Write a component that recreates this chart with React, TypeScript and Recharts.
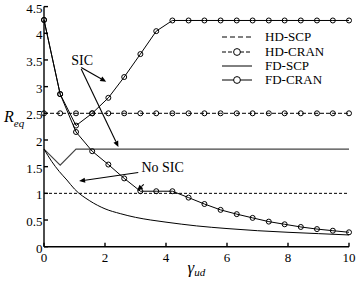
import React from 'react';
import {
  LineChart,
  Line,
  XAxis,
  YAxis,
  Legend,
  ReferenceLine,
  ReferenceDot,
} from 'recharts';

const FONT = '"Liberation Serif", "Times New Roman", serif';

// gamma_ud sample points used by the CRAN curves
const gammaSteps = [0, 0.53, 1.05, 1.58, 2.11, 2.63, 3.16, 3.68, 4.21, 4.74, 5.26, 5.79, 6.32, 6.84, 7.37, 7.89, 8.42, 8.95, 9.47, 10];
const hdCran = [2.5, 2.5, 2.5, 2.5, 2.5, 2.5, 2.5, 2.5, 2.5, 2.5, 2.5, 2.5, 2.5, 2.5, 2.5, 2.5, 2.5, 2.5, 2.5, 2.5];
const fdCranSic = [4.25, 2.86, 2.27, 2.5, 2.79, 3.18, 3.61, 4.04, 4.24, 4.24, 4.24, 4.24, 4.24, 4.24, 4.24, 4.24, 4.24, 4.24, 4.24, 4.24];
const fdCranNoSic = [4.25, 2.86, 2.15, 1.79, 1.54, 1.28, 1.04, 1.04, 1.04, 0.92, 0.8, 0.69, 0.61, 0.54, 0.47, 0.42, 0.37, 0.33, 0.3, 0.27];

const hdScpX = [0, 10];
const hdScp = [1, 1];

const fdScpSicX = [0, 0.53, 1.05, 10];
const fdScpSic = [1.83, 1.53, 1.83, 1.83];

const fdScpNoSicX = [0, 0.25, 0.5, 0.75, 1, 1.5, 2, 2.5, 3, 3.5, 4, 5, 6, 7, 8, 9, 10];
const fdScpNoSic = [1.83, 1.6, 1.41, 1.25, 1.08, 0.86, 0.71, 0.62, 0.55, 0.5, 0.46, 0.39, 0.34, 0.3, 0.27, 0.245, 0.22];

const xTicks = [0, 2, 4, 6, 8, 10];
const yTicks = [0, 0.5, 1, 1.5, 2, 2.5, 3, 3.5, 4, 4.5];

const legendItems = [
  { name: 'HD-SCP', dash: '5 3', marker: false },
  { name: 'HD-CRAN', dash: '4 2', marker: true },
  { name: 'FD-SCP', dash: undefined, marker: false },
  { name: 'FD-CRAN', dash: undefined, marker: true },
];

// annotation arrows, in data units
const arrows = [
  { from: [1.22, 3.36], to: [2.04, 3.09] },
  { from: [1.22, 3.33], to: [2.44, 1.87] },
  { from: [3.09, 1.39], to: [1.15, 1.23] },
  { from: [3.27, 1.17], to: [3.05, 1.05] },
];
const notes = [
  { text: 'SIC', x: 1.25, y: 3.5 },
  { text: 'No SIC', x: 3.89, y: 1.49 },
];

const toRows = (xs: number[], ys: number[]) => xs.map((x, i) => ({ x, y: ys[i] }));

const ArrowShape = (props: any) => {
  const { x1, y1, x2, y2 } = props;
  if ([x1, y1, x2, y2].some((v) => typeof v !== 'number')) return null;
  const a = Math.atan2(y2 - y1, x2 - x1);
  const len = 6;
  const half = 2.6;
  const bx = x2 - len * Math.cos(a);
  const by = y2 - len * Math.sin(a);
  const px = -Math.sin(a) * half;
  const py = Math.cos(a) * half;
  return (
    <g>
      <line x1={x1} y1={y1} x2={bx} y2={by} stroke="#000" strokeWidth={1.1} />
      <path d={`M${x2},${y2}L${bx + px},${by + py}L${bx - px},${by - py}Z`} fill="#000" />
    </g>
  );
};

const XTick = (props: any) => (
  <text x={props.x} y={props.y + 9.3} textAnchor="middle" fontSize={13} fontFamily={FONT} fill="#000">
    {props.payload.value}
  </text>
);

const YTick = (props: any) => (
  <text x={props.x} y={props.y + 6} textAnchor="end" fontSize={13} fontFamily={FONT} fill="#000">
    {props.payload.value}
  </text>
);

const XLabel = (props: any) => {
  const vb = props.viewBox;
  return (
    <text x={vb.x + vb.width / 2 - 9} y={vb.y + 26} fontFamily={FONT} fill="#000">
      <tspan fontSize={17} fontStyle="italic">γ</tspan>
      <tspan fontSize={11} fontStyle="italic" dy={3}>ud</tspan>
    </text>
  );
};

const YLabel = (props: any) => {
  const vb = props.viewBox;
  return (
    <text x={vb.x - 10} y={vb.y + vb.height / 2 - 5} fontFamily={FONT} fill="#000">
      <tspan fontSize={16} fontStyle="italic">R</tspan>
      <tspan fontSize={11} fontStyle="italic" dy={5}>eq</tspan>
    </text>
  );
};

const renderLegend = () => (
  <div style={{ fontFamily: FONT, fontSize: 13, color: '#000' }}>
    {legendItems.map((it) => (
      <div key={it.name} style={{ display: 'flex', alignItems: 'center', height: 14.4 }}>
        <svg width={34} height={14}>
          <line x1={2} y1={7} x2={32} y2={7} stroke="#000" strokeWidth={1} strokeDasharray={it.dash} />
          {it.marker && <circle cx={17} cy={7} r={3.4} fill="#fff" stroke="#000" strokeWidth={1} />}
        </svg>
        <span style={{ marginLeft: 11, lineHeight: '14px' }}>{it.name}</span>
      </div>
    ))}
  </div>
);

const dotStyle = { r: 2.5, stroke: '#000', strokeWidth: 1, fill: 'none', strokeDasharray: 'none' };

export default function App() {
  return (
    <div style={{ position: 'relative', width: 360, height: 281 }}>
      <style>{'body{margin:0;background:#fff} svg text{font-family:"Liberation Serif","Times New Roman",serif}'}</style>
      <LineChart width={360} height={281} margin={{ top: 6.6, right: 11, bottom: 4.3, left: 14 }}>
        <XAxis
          xAxisId="b"
          type="number"
          dataKey="x"
          domain={[0, 10]}
          ticks={xTicks}
          interval={0}
          height={30}
          tickSize={-4}
          tickMargin={10}
          stroke="#000"
          strokeWidth={1.4}
          tick={<XTick />}
          label={XLabel}
        />
        <XAxis
          xAxisId="t"
          orientation="top"
          type="number"
          domain={[0, 10]}
          ticks={xTicks}
          interval={0}
          height={0}
          tickSize={-4}
          tick={false}
          stroke="#000"
          strokeWidth={1.4}
        />
        <YAxis
          yAxisId="l"
          type="number"
          domain={[0, 4.5]}
          ticks={yTicks}
          interval={0}
          width={30}
          tickSize={-4}
          tickMargin={5.5}
          stroke="#000"
          strokeWidth={1.4}
          tick={<YTick />}
          label={YLabel}
        />
        <YAxis
          yAxisId="r"
          orientation="right"
          type="number"
          domain={[0, 4.5]}
          ticks={yTicks}
          interval={0}
          width={0}
          tickSize={-4}
          tick={false}
          stroke="#000"
          strokeWidth={1.4}
        />
        <Legend
          content={renderLegend}
          layout="horizontal"
          verticalAlign="middle"
          align="center"
          wrapperStyle={{ left: 220, top: 30, width: 130, height: 'auto' }}
        />
        <Line
          xAxisId="b"
          yAxisId="l"
          data={toRows(hdScpX, hdScp)}
          dataKey="y"
          name="HD-SCP"
          stroke="#000"
          strokeWidth={1}
          strokeDasharray="3 2"
          dot={false}
          isAnimationActive={false}
        />
        <Line
          xAxisId="b"
          yAxisId="l"
          data={toRows(gammaSteps, hdCran)}
          dataKey="y"
          name="HD-CRAN"
          stroke="#000"
          strokeWidth={1}
          strokeDasharray="4 2"
          dot={dotStyle}
          isAnimationActive={false}
        />
        <Line
          xAxisId="b"
          yAxisId="l"
          data={toRows(fdScpSicX, fdScpSic)}
          dataKey="y"
          name="FD-SCP"
          stroke="#444"
          strokeWidth={1.2}
          dot={false}
          isAnimationActive={false}
        />
        <Line
          xAxisId="b"
          yAxisId="l"
          data={toRows(fdScpNoSicX, fdScpNoSic)}
          dataKey="y"
          name="FD-SCP no SIC"
          type="monotone"
          stroke="#000"
          strokeWidth={1}
          dot={false}
          isAnimationActive={false}
        />
        <Line
          xAxisId="b"
          yAxisId="l"
          data={toRows(gammaSteps, fdCranSic)}
          dataKey="y"
          name="FD-CRAN"
          stroke="#000"
          strokeWidth={1}
          dot={dotStyle}
          isAnimationActive={false}
        />
        <Line
          xAxisId="b"
          yAxisId="l"
          data={toRows(gammaSteps, fdCranNoSic)}
          dataKey="y"
          name="FD-CRAN no SIC"
          stroke="#000"
          strokeWidth={1}
          dot={dotStyle}
          isAnimationActive={false}
        />
        {arrows.map((a, i) => (
          <ReferenceLine
            key={i}
            xAxisId="b"
            yAxisId="l"
            segment={[
              { x: a.from[0], y: a.from[1] },
              { x: a.to[0], y: a.to[1] },
            ]}
            shape={ArrowShape}
          />
        ))}
        {notes.map((n) => (
          <ReferenceDot
            key={n.text}
            xAxisId="b"
            yAxisId="l"
            x={n.x}
            y={n.y}
            r={0}
            stroke="none"
            fill="none"
            label={{ value: n.text, position: 'center', fill: '#000', fontSize: 14, fontFamily: FONT }}
          />
        ))}
      </LineChart>
    </div>
  );
}
